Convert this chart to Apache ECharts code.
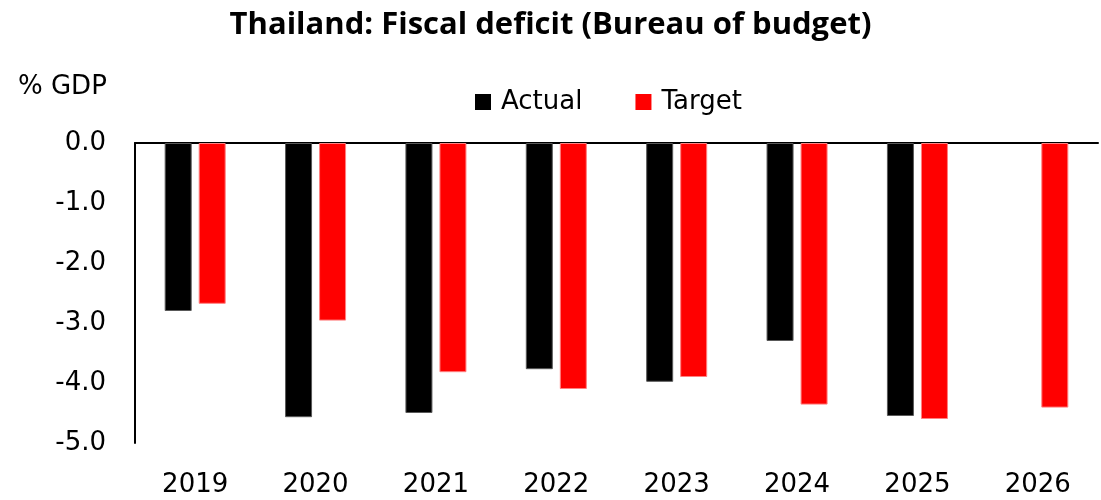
<!DOCTYPE html>
<html>
<head>
<meta charset="utf-8">
<script src="https://cdn.jsdelivr.net/npm/echarts@6/dist/echarts.min.js"></script>
<style>html,body{margin:0;padding:0;background:#fff}#c{width:1101px;height:500px}</style>
</head>
<body>
<div id="c"></div>
<script>
const categories = ['2019','2020','2021','2022','2023','2024','2025','2026'];
const actual = [-2.80, -4.57, -4.50, -3.77, -3.98, -3.30, -4.55, null];
const target = [-2.68, -2.96, -3.82, -4.10, -3.90, -4.36, -4.60, -4.41];
const yTicks = { min: -5, max: 0, interval: 1 };

const font = 'DejaVu Sans';
const chart = echarts.init(document.getElementById('c'), null, { renderer: 'canvas' });
chart.setOption({
  animation: false,
  backgroundColor: '#fff',
  title: {
    text: 'Thailand: Fiscal deficit (Bureau of budget)',
    left: 'center', top: 5,
    textStyle: { fontFamily: 'Open Sans', fontWeight: 'bold', fontSize: 31, color: '#000' }
  },
  legend: {
    data: ['Actual', 'Target'],
    top: 84, left: 470,
    itemWidth: 16, itemHeight: 16, itemGap: 53,
    icon: 'rect',
    itemStyle: { borderWidth: 0 },
    textStyle: { fontFamily: font, fontSize: 26, color: '#000', padding: [0,0,0,5] }
  },
  graphic: [{
    type: 'text', left: 18, top: 74,
    style: { text: '% GDP', font: '26px "DejaVu Sans"', fill: '#000' }
  }],
  grid: { left: 135, right: 3, top: 143, bottom: 57 },
  xAxis: [{
    type: 'category', data: categories, position: 'bottom',
    axisLine: { show: false, onZero: false }, axisTick: { show: false },
    axisLabel: { fontFamily: font, fontSize: 26, color: '#000', margin: 29 }
  }, {
    type: 'category', data: categories, position: 'top',
    axisLine: { show: true, onZero: false, lineStyle: { color: '#000', width: 2 } },
    axisTick: { show: false }, axisLabel: { show: false }
  }],
  yAxis: {
    type: 'value', min: yTicks.min, max: yTicks.max, interval: yTicks.interval,
    axisLine: { show: true, lineStyle: { color: '#000', width: 2 } },
    axisTick: { show: false }, splitLine: { show: false },
    axisLabel: { fontFamily: font, fontSize: 26, color: '#000', margin: 29,
      formatter: v => v.toFixed(1) }
  },
  series: [{
    name: 'Actual', type: 'bar', data: actual, barWidth: 27, barGap: '26%',
    itemStyle: { color: '#000', borderColor: '#595959', borderWidth: 1 }
  }, {
    name: 'Target', type: 'bar', data: target, barWidth: 27, barGap: '26%',
    itemStyle: { color: '#ff0000', borderColor: '#ff8080', borderWidth: 1 }
  }]
});
</script>
</body>
</html>
